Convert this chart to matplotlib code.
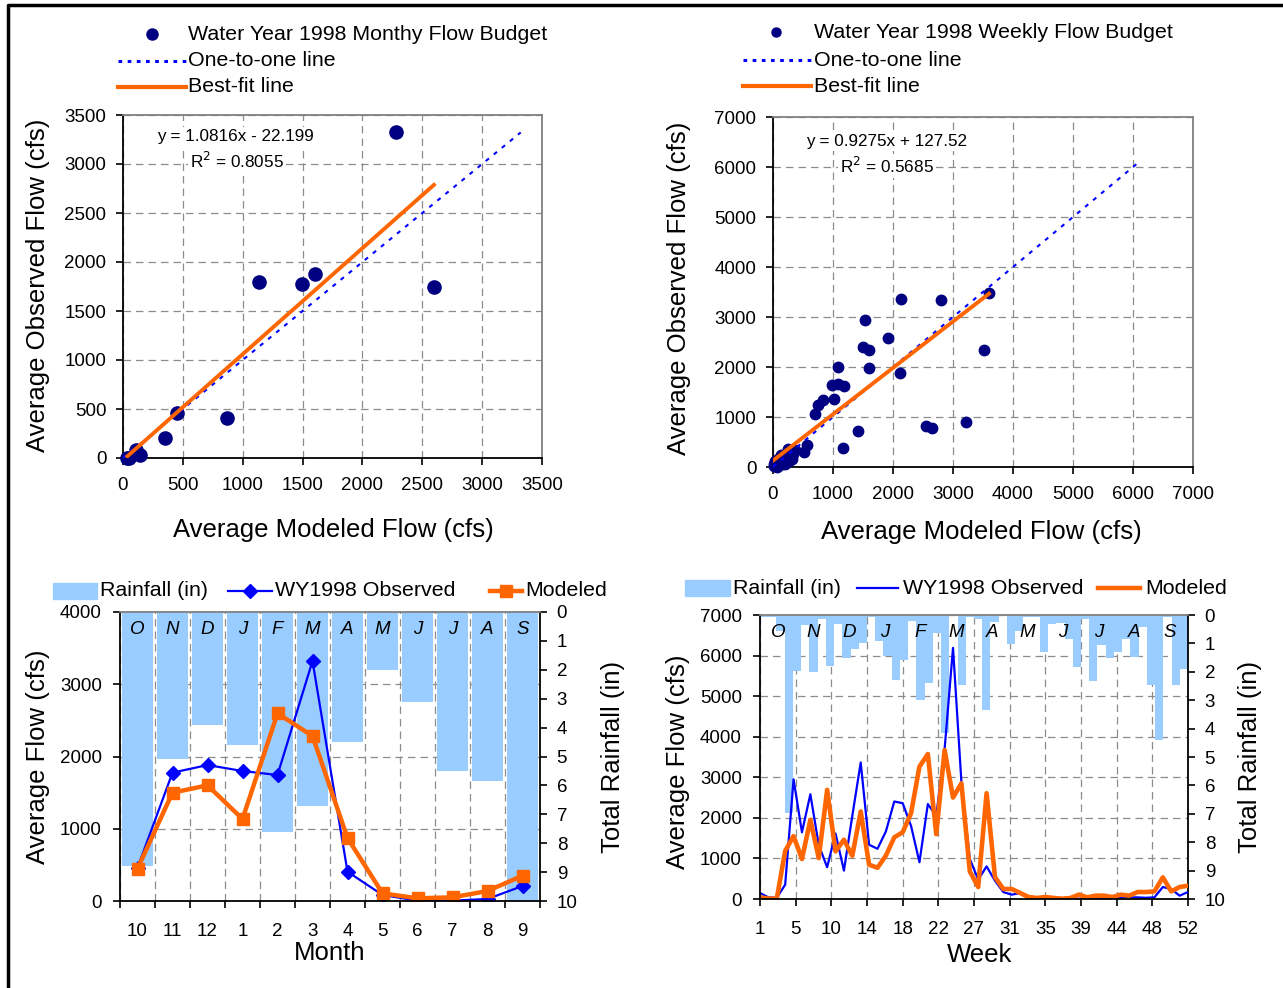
import numpy as np
import matplotlib
matplotlib.use("Agg")
import matplotlib.pyplot as plt
import matplotlib.transforms as mtransforms
from matplotlib.lines import Line2D
from matplotlib.patches import Rectangle

plt.rcParams['font.family'] = ['Liberation Sans', 'DejaVu Sans']

# ---------------- data ----------------
month_tick_labels = ["10", "11", "12", "1", "2", "3", "4", "5", "6", "7", "8", "9"]
month_letters = ["O", "N", "D", "J", "F", "M", "A", "M", "J", "J", "A", "S"]
monthly_rain = [8.8, 5.1, 3.9, 4.6, 7.6, 6.7, 4.5, 2.0, 3.1, 5.5, 5.85, 10.4]
monthly_observed = [461, 1776, 1882, 1799, 1744, 3322, 406, 83, 5, 5, 28, 208]
monthly_modeled = [448, 1499, 1601, 1135, 2597, 2284, 872, 106, 37, 51, 138, 351]
monthly_fit = (1.0816, -22.199, 0.8055)

weeks = list(range(1, 53))
week_tick_labels = ["1", "5", "10", "14", "18", "22", "27", "31", "35", "39", "44", "48", "52"]
weekly_rain = [0.07, 0.07, 0.55, 6.98, 1.98, 0.36, 2.0, 0.15, 1.79, 0.30,
               1.51, 1.2, 0.98, 0.07, 0.91, 1.45, 2.28, 1.58, 0.22, 3.0,
               2.39, 0.62, 4.17, 0.05, 2.47, 0.07, 0.13, 3.35, 0.25, 0.02,
               1.02, 0.57, 0.07, 0.07, 1.3, 0.3, 0.27, 0.83, 1.83, 0.14,
               2.33, 1.07, 1.51, 1.32, 0.83, 1.48, 0.44, 2.47, 4.4, 0.08,
               2.47, 1.9]
weekly_observed = [148, 40, 30, 352, 2950, 1645, 2582, 1330, 783, 1615,
                   700, 2050, 3365, 1337, 1238, 1665, 2403, 2362, 1800, 906,
                   2340, 2050, 3700, 6190, 2880, 990, 475, 803, 450, 170,
                   107, 148, 60, 40, 25, 15, 10, 5, 5, 5,
                   10, 20, 30, 35, 40, 40, 30, 41, 295, 246,
                   82, 172]
weekly_modeled = [41, 10, 10, 1185, 1550, 984, 1952, 1009, 2690, 1173,
                  1460, 1066, 2157, 845, 770, 1070, 1520, 1645, 2115, 3262,
                  3574, 1598, 3672, 2500, 2852, 680, 295, 2607, 541, 246,
                  246, 148, 49, 25, 49, 25, 8, 25, 107, 41,
                  82, 82, 49, 107, 82, 172, 172, 188, 533, 188,
                  295, 328]

weekly_budget_modeled = [3600, 2128, 2795, 1528, 1917, 1494, 1606, 3517, 1083, 1600,
                         2117, 989, 1078, 1178, 1011, 833, 756, 694, 1422, 2556,
                         2650, 3217, 1161, 567, 511,
                         20, 30, 50, 60, 80, 100, 120, 150, 160, 180,
                         200, 220, 240, 260, 280, 300, 320, 340, 360, 250,
                         140, 90, 40, 10, 200, 110, 70]
weekly_budget_observed = [3480, 3360, 3347, 2947, 2573, 2400, 2347, 2333, 1993, 1980,
                          1887, 1647, 1667, 1613, 1360, 1347, 1247, 1053, 713, 827,
                          780, 907, 373, 447, 293,
                          10, 40, 20, 80, 50, 30, 120, 60, 180, 100,
                          150, 250, 200, 120, 300, 220, 160, 260, 330, 350,
                          240, 150, 120, 60, 50, 90, 5]
weekly_fit = (0.9275, 127.52, 0.5685)
weekly_one_to_one_max = 6100

# ---------------- styling ----------------
NAVY = '#000080'
BLUE = '#0000FF'
ORANGE = '#FF6600'
RAIN = '#99CCFF'
GRID = '#8C8C8C'
GRID_LS = (0, (6, 4))
TICK_FS = 13.5
LABEL_FS = 18.5
LEG_FS = 15.4
EQ_FS = 12.3

W, H = 1283, 988
fig = plt.figure(figsize=(W / 100, H / 100), dpi=100)


def rect(l, t, r, b):
    return [l / W, 1 - b / H, (r - l) / W, (b - t) / H]


def fx(x):
    return x / W


def fy(y):
    return 1 - y / H


def style_spines(ax, right_color='#808080'):
    ax.spines['left'].set_color('black')
    ax.spines['bottom'].set_color('black')
    ax.spines['top'].set_color('#808080')
    ax.spines['right'].set_color(right_color)
    for s in ax.spines.values():
        s.set_linewidth(1.3)


def eq_text(slope, icpt):
    sign = '-' if icpt < 0 else '+'
    return f"y = {slope}x {sign} {abs(icpt)}"


def scatter_panel(r, mod, obs, fit, one_max, lim, step, ms, eq_pos, r2_pos):
    ax = fig.add_axes(r)
    ax.set_xlim(0, lim)
    ax.set_ylim(0, lim)
    ticks = np.arange(0, lim + 1, step)
    ax.set_xticks(ticks)
    ax.set_yticks(ticks)
    ax.grid(True, color=GRID, ls=GRID_LS, lw=0.9)
    ax.set_axisbelow(True)
    style_spines(ax)
    ax.tick_params(direction='out', length=5, width=1.2, labelsize=TICK_FS)
    ax.tick_params(axis='x', pad=9)
    ax.tick_params(axis='y', pad=7)
    ax.plot(mod, obs, 'o', color=NAVY, ms=ms, mec=NAVY, zorder=3, clip_on=False)
    ax.plot([0, one_max], [0, one_max], color=BLUE, lw=1.5, ls=(0, (2, 3)), zorder=4)
    slope, icpt, r2 = fit
    xs = np.array([min(mod), max(mod)])
    ax.plot(xs, slope * xs + icpt, color=ORANGE, lw=2.8, zorder=5)
    box = dict(facecolor='white', edgecolor='none', pad=1.5)
    fig.text(fx(eq_pos[0]), fy(eq_pos[1]), eq_text(slope, icpt), fontsize=EQ_FS,
             ha='left', va='center', bbox=box)
    fig.text(fx(r2_pos[0]), fy(r2_pos[1]), f"R$^2$ = {r2}", fontsize=EQ_FS,
             ha='left', va='center', bbox=box)
    return ax


def scatter_legend(mx, tx, y0, y1, y2, l0, l1, ms, label):
    fig.add_artist(Line2D([fx(mx)], [fy(y0)], marker='o', color=NAVY, ms=ms,
                          transform=fig.transFigure, ls='none'))
    fig.text(fx(tx), fy(y0), label, fontsize=LEG_FS, va='center', ha='left')
    fig.add_artist(Line2D([fx(l0), fx(l1)], [fy(y1), fy(y1)], color=BLUE, lw=2.2,
                          ls=(0, (1.2, 1.8)), transform=fig.transFigure))
    fig.text(fx(tx), fy(y1), "One-to-one line", fontsize=LEG_FS, va='center', ha='left')
    fig.add_artist(Line2D([fx(l0), fx(l1)], [fy(y2), fy(y2)], color=ORANGE, lw=3,
                          transform=fig.transFigure))
    fig.text(fx(tx), fy(y2), "Best-fit line", fontsize=LEG_FS, va='center', ha='left')


# ---------------- top-left: monthly scatter ----------------
scatter_panel(rect(123, 115, 542, 458), monthly_modeled, monthly_observed, monthly_fit,
              max(monthly_observed), 3500, 500, 9.5, (157, 137), (190, 161))
scatter_legend(152, 188, 34, 61, 87, 118, 186, 8,
               "Water Year 1998 Monthy Flow Budget")
fig.text(fx(333), fy(530), "Average Modeled Flow (cfs)", fontsize=LABEL_FS,
         ha='center', va='center')
fig.text(fx(38), fy(285), "Average Observed Flow (cfs)", fontsize=LABEL_FS,
         ha='center', va='center', rotation=90)

# ---------------- top-right: weekly scatter ----------------
scatter_panel(rect(773, 117, 1193, 467), weekly_budget_modeled, weekly_budget_observed,
              weekly_fit, weekly_one_to_one_max, 7000, 1000, 7.5, (806, 141), (840, 166))
scatter_legend(776, 814, 32, 60, 86, 743, 811, 6.5,
               "Water Year 1998 Weekly Flow Budget")
fig.text(fx(981), fy(532), "Average Modeled Flow (cfs)", fontsize=LABEL_FS,
         ha='center', va='center')
fig.text(fx(679), fy(288), "Average Observed Flow (cfs)", fontsize=LABEL_FS,
         ha='center', va='center', rotation=90)


# ---------------- bottom panels: flow + rainfall ----------------
def layered_axes(r):
    ax_g = fig.add_axes(r, zorder=0)
    ax_r = fig.add_axes(r, zorder=1)
    ax_f = fig.add_axes(r, zorder=2)
    ax_r.patch.set_visible(False)
    ax_f.patch.set_visible(False)
    for s in ax_g.spines.values():
        s.set_visible(False)
    ax_g.tick_params(length=0, labelleft=False, labelbottom=False)
    for s in ax_r.spines.values():
        s.set_visible(False)
    ax_r.spines['right'].set_visible(True)
    ax_r.spines['right'].set_color('black')
    ax_r.spines['right'].set_linewidth(1.3)
    ax_r.yaxis.tick_right()
    ax_r.set_xticks([])
    ax_r.set_ylim(10, 0)
    ax_r.set_yticks(range(0, 11))
    ax_r.tick_params(axis='y', direction='out', length=5, width=1.2,
                     labelsize=TICK_FS, pad=7)
    style_spines(ax_f)
    ax_f.spines['right'].set_visible(False)
    ax_f.tick_params(direction='out', length=5, width=1.2, labelsize=TICK_FS)
    ax_f.tick_params(axis='y', pad=8)
    return ax_g, ax_r, ax_f


# bottom-left: monthly
ax_g, ax_r, ax_f = layered_axes(rect(120, 612, 540, 901))
x_m = np.arange(len(month_tick_labels))
for a in (ax_g, ax_r, ax_f):
    a.set_xlim(-0.5, len(x_m) - 0.5)
for a in (ax_g, ax_f):
    a.set_ylim(0, 4000)
    a.set_yticks(np.arange(0, 4001, 1000))
    a.set_xticks(np.arange(-0.5, len(x_m), 1))
ax_g.grid(True, color=GRID, ls=GRID_LS, lw=0.9)
ax_r.bar(x_m, monthly_rain, width=0.86, color=RAIN)
ax_f.set_xticks(x_m, month_tick_labels, minor=True)
ax_f.tick_params(axis='x', which='major', labelbottom=False)
ax_f.tick_params(axis='x', which='minor', length=0, pad=16, labelsize=TICK_FS)
ax_f.plot(x_m, monthly_observed, color=BLUE, lw=1.6, marker='D', ms=7.5, mec=BLUE)
ax_f.plot(x_m, monthly_modeled, color=ORANGE, lw=3.2, marker='s', ms=9, mec=ORANGE)
trans = mtransforms.blended_transform_factory(ax_r.transData, ax_r.transAxes)
for xi, letter in zip(x_m, month_letters):
    ax_r.text(xi, 0.938, letter, transform=trans, ha='center', va='center',
              fontsize=13.5, style='italic')
fig.text(fx(330), fy(953), "Month", fontsize=LABEL_FS, ha='center', va='center')
fig.text(fx(38), fy(757), "Average Flow (cfs)", fontsize=LABEL_FS,
         ha='center', va='center', rotation=90)
fig.text(fx(613), fy(757), "Total Rainfall (in)", fontsize=LABEL_FS,
         ha='center', va='center', rotation=90)

# bottom-right: weekly
bg, br, bf = layered_axes(rect(760, 615, 1188, 899))
n_w = len(weeks)
for a in (bg, br, bf):
    a.set_xlim(weeks[0], weeks[-1])
week_ticks = np.linspace(weeks[0], weeks[-1], len(week_tick_labels))
for a in (bg, bf):
    a.set_ylim(0, 7000)
    a.set_yticks(np.arange(0, 7001, 1000))
bg.set_xticks(week_ticks)
bf.set_xticks(week_ticks, week_tick_labels)
bf.tick_params(axis='x', pad=11)
bg.grid(True, color=GRID, ls=GRID_LS, lw=0.9)
span = (weeks[-1] - weeks[0]) / n_w
edges = weeks[0] + np.arange(n_w) * span
br.bar(edges, weekly_rain, width=span, align='edge', color=RAIN)
bf.plot(weeks, weekly_observed, color=BLUE, lw=1.6)
bf.plot(weeks, weekly_modeled, color=ORANGE, lw=3.3)
trans = mtransforms.blended_transform_factory(br.transData, br.transAxes)
month_w = (weeks[-1] - weeks[0]) / len(month_letters)
for k, letter in enumerate(month_letters):
    br.text(weeks[0] + (k + 0.5) * month_w, 0.94, letter, transform=trans,
            ha='center', va='center', fontsize=13.5, style='italic')
fig.text(fx(980), fy(955), "Week", fontsize=LABEL_FS, ha='center', va='center')
fig.text(fx(678), fy(762), "Average Flow (cfs)", fontsize=LABEL_FS,
         ha='center', va='center', rotation=90)
fig.text(fx(1250), fy(757), "Total Rainfall (in)", fontsize=LABEL_FS,
         ha='center', va='center', rotation=90)


# legends for bottom panels
def flow_legend(y, p0, p1, t0, b0, b1, t1, o0, o1, t2, markers):
    fig.add_artist(Rectangle((fx(p0), fy(y + 8)), fx(p1) - fx(p0), fy(y - 8) - fy(y + 8),
                             color=RAIN, transform=fig.transFigure))
    fig.text(fx(t0), fy(y), "Rainfall (in)", fontsize=LEG_FS, va='center', ha='left')
    kw = dict(marker='D', ms=7, mec=BLUE, markevery=[1]) if markers else {}
    fig.add_artist(Line2D([fx(b0), fx((b0 + b1) / 2), fx(b1)], [fy(y)] * 3, color=BLUE,
                          lw=1.6, transform=fig.transFigure, **kw))
    fig.text(fx(t1), fy(y), "WY1998 Observed", fontsize=LEG_FS, va='center', ha='left')
    kw = dict(marker='s', ms=8.5, mec=ORANGE, markevery=[1]) if markers else {}
    fig.add_artist(Line2D([fx(o0), fx((o0 + o1) / 2), fx(o1)], [fy(y)] * 3, color=ORANGE,
                          lw=3.2, transform=fig.transFigure, **kw))
    fig.text(fx(t2), fy(y), "Modeled", fontsize=LEG_FS, va='center', ha='left')


flow_legend(591, 53, 97, 100, 228, 272, 275, 490, 522, 525, True)
flow_legend(588, 685, 730, 733, 857, 898, 903, 1098, 1140, 1145, False)

# outer frame
fig.add_artist(Line2D([fx(8), fx(8), fx(W + 5)], [fy(H + 5), fy(5), fy(5)],
                      color='black', lw=2.5, transform=fig.transFigure))

fig.savefig("out.png", dpi=100)
